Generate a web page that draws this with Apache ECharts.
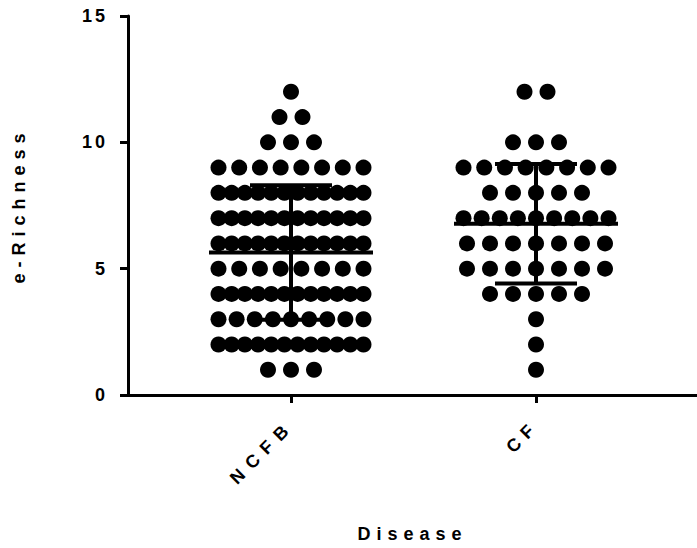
<!DOCTYPE html>
<html>
<head>
<meta charset="utf-8">
<script src="https://cdn.jsdelivr.net/npm/echarts@6/dist/echarts.min.js"></script>
<style>
  html, body { margin: 0; padding: 0; background: #fff; }
  #chart { width: 697px; height: 548px; }
</style>
</head>
<body>
<div id="chart"></div>
<script>
// ---- data ----
const groups = ['NCFB', 'CF'];
const richnessLevels = [1, 2, 3, 4, 5, 6, 7, 8, 9, 10, 11, 12];
const ncfbCounts = [3, 12, 9, 12, 8, 12, 12, 12, 8, 3, 2, 1];
const cfCounts   = [1, 1, 1, 5, 7, 7, 9, 5, 8, 3, 0, 2];
const yTickValues = [0, 5, 10, 15];
const xTitle = 'Disease';
const yTitle = 'e-Richness';

// ---- beeswarm-like row layout (pixel offsets, centred on group) ----
function rowOffsets(n) {
  if (n <= 1) return [0];
  const s = Math.min(23, 145 / (n - 1));
  const out = [];
  for (let i = 0; i < n; i++) out.push((i - (n - 1) / 2) * s);
  return out;
}
function buildPoints(gi, counts) {
  const pts = [];
  counts.forEach((c, k) => {
    if (c <= 0) return;
    rowOffsets(c).forEach(dx => {
      pts.push({ value: [gi, richnessLevels[k]], symbolOffset: [dx, 0] });
    });
  });
  return pts;
}
function stats(counts) {
  let n = 0, s = 0;
  counts.forEach((c, k) => { n += c; s += c * richnessLevels[k]; });
  const m = s / n;
  let ss = 0;
  counts.forEach((c, k) => { ss += c * Math.pow(richnessLevels[k] - m, 2); });
  return [m, Math.sqrt(ss / (n - 1))];
}
const allCounts = [ncfbCounts, cfCounts];
const points = [].concat(buildPoints(0, ncfbCounts), buildPoints(1, cfCounts));
const summary = allCounts.map((c, gi) => { const st = stats(c); return [gi, st[0], st[1]]; });

const chart = echarts.init(document.getElementById('chart'), null, { renderer: 'svg' });
const FONT = 'Liberation Sans';
const FS = 18;
chart.setOption({
  animation: false,
  backgroundColor: '#fff',
  grid: { left: 128, right: 0, top: 16, bottom: 148, containLabel: false },
  xAxis: {
    type: 'value',
    min: -0.6653, max: 1.6571,
    name: xTitle, nameLocation: 'middle', nameGap: 130,
    nameTextStyle: { fontFamily: FONT, fontWeight: 'bold', fontSize: FS, color: '#000' },
    axisLine: { show: true, onZero: false, lineStyle: { color: '#000', width: 3 } },
    axisTick: { show: true, length: 8, lineStyle: { color: '#000', width: 3 }, customValues: [0, 1] },
    axisLabel: {
      customValues: [0, 1], rotate: 45, margin: 28,
      fontFamily: FONT, fontWeight: 'bold', fontSize: FS, color: '#000',
      formatter: v => groups[Math.round(v)]
    },
    splitLine: { show: false }
  },
  yAxis: {
    type: 'value', min: 0, max: 15, interval: 5,
    name: yTitle, nameLocation: 'middle', nameGap: 100,
    nameTextStyle: { fontFamily: FONT, fontWeight: 'bold', fontSize: FS, color: '#000' },
    axisLine: { show: true, onZero: false, lineStyle: { color: '#000', width: 3 } },
    axisTick: { show: true, length: 8, lineStyle: { color: '#000', width: 3 } },
    axisLabel: {
      margin: 20, fontFamily: FONT, fontWeight: 'bold', fontSize: FS, color: '#000',
      formatter: v => (yTickValues.indexOf(v) >= 0 ? String(v) : '')
    },
    splitLine: { show: false }
  },
  series: [
    {
      type: 'scatter',
      symbol: 'circle', symbolSize: 16,
      itemStyle: { color: '#000', opacity: 1 },
      emphasis: { disabled: true },
      data: points,
      z: 2
    },
    {
      type: 'custom',
      clip: false,
      z: 3,
      data: summary,
      renderItem: function (params, api) {
        const g = api.value(0), m = api.value(1), sd = api.value(2);
        const pm = api.coord([g, m]);
        const pt = api.coord([g, m + sd]);
        const pb = api.coord([g, m - sd]);
        const st = { stroke: '#000', lineWidth: 4 };
        return {
          type: 'group',
          children: [
            { type: 'line', shape: { x1: pm[0] - 82, y1: pm[1], x2: pm[0] + 82, y2: pm[1] }, style: st },
            { type: 'line', shape: { x1: pt[0], y1: pt[1], x2: pb[0], y2: pb[1] }, style: st },
            { type: 'line', shape: { x1: pt[0] - 41, y1: pt[1], x2: pt[0] + 41, y2: pt[1] }, style: st },
            { type: 'line', shape: { x1: pb[0] - 41, y1: pb[1], x2: pb[0] + 41, y2: pb[1] }, style: st }
          ]
        };
      }
    }
  ]
});

// wide letter spacing, as in the reference
function spaceLetters() {
  const map = { 'NCFB': '8px', 'CF': '7px', 'Disease': '6px', 'e-Richness': '6px' };
  document.querySelectorAll('#chart text').forEach(t => {
    const s = t.textContent;
    t.style.letterSpacing = map[s] || '3px';
  });
}
spaceLetters();
chart.on('finished', spaceLetters);
</script>
</body>
</html>
